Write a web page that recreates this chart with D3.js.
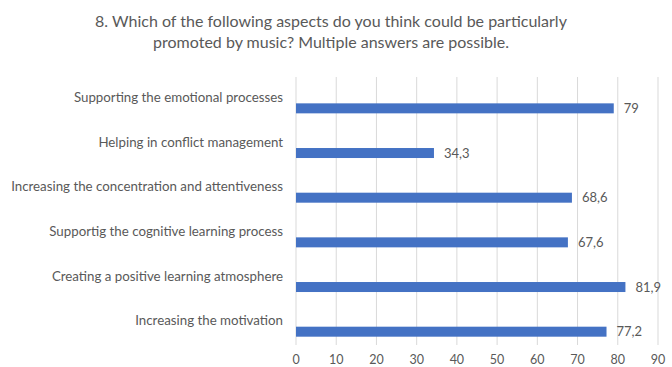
<!DOCTYPE html>
<html>
<head>
<meta charset="utf-8">
<script src="https://cdn.jsdelivr.net/npm/d3@7"></script>
<style>
  body { margin: 0; background: #fff; }
  svg { display: block; }
  text { font-family: Lato, "Open Sans", sans-serif; fill: #595959; }
</style>
</head>
<body>
<svg id="chart" width="672" height="367"></svg>
<script>
let titleLines = [
  '8. Which of the following aspects do you think could be particularly',
  'promoted by music? Multiple answers are possible.'
];

let categories = [
  'Supporting the emotional processes',
  'Helping in conflict management',
  'Increasing the concentration and attentiveness',
  'Supportig the cognitive learning process',
  'Creating a positive learning atmosphere',
  'Increasing the motivation'
];

let values = [79, 34.3, 68.6, 67.6, 81.9, 77.2];

let ticks = [0, 10, 20, 30, 40, 50, 60, 70, 80, 90];

let svg = d3.select('#chart');

let plotLeft = 296, plotRight = 658, plotTop = 77, plotBottom = 345;

let x = d3.scaleLinear().domain([0, 90]).range([plotLeft, plotRight]);
let y = d3.scaleBand().domain(categories).range([plotTop, plotBottom]);

let fmt = v => String(v).replace('.', ',');

// title
svg.append('text')
  .attr('x', 331)
  .attr('text-anchor', 'middle')
  .style('font-size', '16px')
  .selectAll('tspan')
  .data(titleLines)
  .enter()
  .append('tspan')
  .attr('x', 331)
  .attr('y', (d, i) => 27 + i * 21)
  .text(d => d);

// gridlines
svg.append('g')
  .selectAll('line')
  .data(ticks)
  .enter()
  .append('line')
  .attr('x1', d => x(d))
  .attr('x2', d => x(d))
  .attr('y1', plotTop)
  .attr('y2', plotBottom)
  .attr('stroke', '#d9d9d9')
  .attr('stroke-width', 1);

// tick labels
svg.append('g')
  .selectAll('text')
  .data(ticks)
  .enter()
  .append('text')
  .attr('x', d => x(d))
  .attr('y', 364)
  .attr('text-anchor', 'middle')
  .style('font-size', '12.5px')
  .text(d => d);

let barOffset = y.bandwidth() * 0.59;
let barH = 10;

// bars
svg.append('g')
  .selectAll('rect')
  .data(values)
  .enter()
  .append('rect')
  .attr('x', x(0))
  .attr('y', (d, i) => y(categories[i]) + barOffset)
  .attr('width', d => x(d) - x(0))
  .attr('height', barH)
  .attr('fill', '#4472c4');

// category labels
svg.append('g')
  .selectAll('text')
  .data(categories)
  .enter()
  .append('text')
  .attr('x', 283)
  .attr('y', d => y(d) + barOffset - 1.5)
  .attr('text-anchor', 'end')
  .style('font-size', '13.3px')
  .text(d => d);

// value labels
svg.append('g')
  .selectAll('text')
  .data(values)
  .enter()
  .append('text')
  .attr('x', d => x(d) + 10)
  .attr('y', (d, i) => y(categories[i]) + barOffset + barH / 2)
  .attr('dy', '0.35em')
  .style('font-size', '13px')
  .text(d => fmt(d));
</script>
</body>
</html>
